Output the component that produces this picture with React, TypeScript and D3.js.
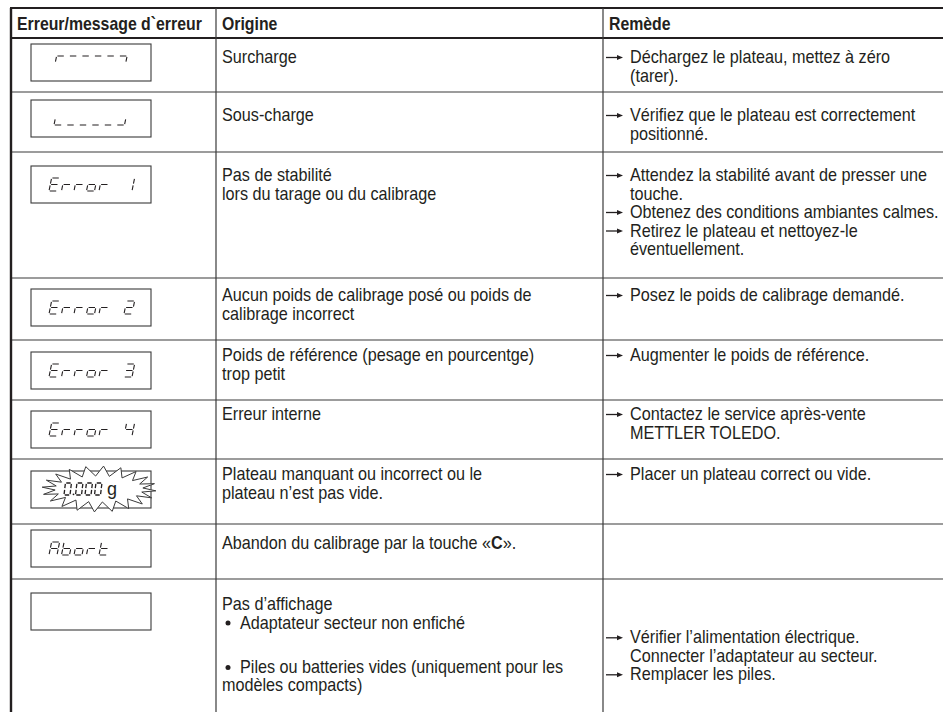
import React from 'react';
import * as d3 from 'd3';

// Column headers
const headers = ['Erreur/message d`erreur', 'Origine', 'Remède'];

// LCD content of each row ('<' '-' '>' = top segments, '[' '_' ']' = bottom segments)
const displays = ['<---->', '[____]', 'Error 1', 'Error 2', 'Error 3', 'Error 4', '0.000', 'Abort', ''];

// "Origine" column, one array of lines per row (• = bullet, *x* = bold, '' = gap)
const origins: string[][] = [
  ['Surcharge'],
  ['Sous-charge'],
  ['Pas de stabilité', 'lors du tarage ou du calibrage'],
  ['Aucun poids de calibrage posé ou poids de', 'calibrage incorrect'],
  ['Poids de référence (pesage en pourcentge)', 'trop petit'],
  ['Erreur interne'],
  ['Plateau manquant ou incorrect ou le', 'plateau n’est pas vide.'],
  ['Abandon du calibrage par la touche «*C*».'],
  ['Pas d’affichage', '•Adaptateur secteur non enfiché', '', '•Piles ou batteries vides (uniquement pour les', 'modèles compacts)'],
];

// "Remède" column (→ = arrow item)
const remedies: string[][] = [
  ['→Déchargez le plateau, mettez à zéro', '(tarer).'],
  ['→Vérifiez que le plateau est correctement', 'positionné.'],
  ['→Attendez la stabilité avant de presser une', 'touche.', '→Obtenez des conditions ambiantes calmes.', '→Retirez le plateau et nettoyez-le', 'éventuellement.'],
  ['→Posez le poids de calibrage demandé.'],
  ['→Augmenter le poids de référence.'],
  ['→Contactez le service après-vente', 'METTLER TOLEDO.'],
  ['→Placer un plateau correct ou vide.'],
  [],
  ['', '→Vérifier l’alimentation électrique.', 'Connecter l’adaptateur au secteur.', '→Remplacer les piles.'],
];

const SEGMENTS: Record<string, string> = {
  E: 'adefg', r: 'eg', o: 'cdeg', A: 'abcefg', b: 'cdefg', t: 'defg',
  '0': 'abcdef', '1': 'bc', '2': 'abdeg', '3': 'abcdg', '4': 'bcfg',
  '<': 'af', '-': 'a', '>': 'ab', '[': 'de', '_': 'd', ']': 'cd', ' ': '',
};

const FONT = '"Liberation Sans", Arial, sans-serif';
const INK = '#231f20';
const LINE = '#3a3a3a';

// seven segment glyph as path string
function glyph(ch: string, x0: number, y0: number, w: number, h: number, slant = 0.2): string {
  const p = d3.path();
  const P = (x: number, y: number): [number, number] => [x + (y0 + h - y) * slant, y];
  const m = y0 + h / 2;
  const gp = 0.8;
  const seg: Record<string, [number, number, number, number]> = {
    a: [x0 + gp, y0, x0 + w - gp, y0],
    b: [x0 + w, y0 + gp, x0 + w, m - gp],
    c: [x0 + w, m + gp, x0 + w, y0 + h - gp],
    d: [x0 + gp, y0 + h, x0 + w - gp, y0 + h],
    e: [x0, m + gp, x0, y0 + h - gp],
    f: [x0, y0 + gp, x0, m - gp],
    g: [x0 + gp, m, x0 + w - gp, m],
  };
  (SEGMENTS[ch] ?? '').split('').forEach(k => {
    const [x1, y1, x2, y2] = seg[k];
    p.moveTo(...P(x1, y1));
    p.lineTo(...P(x2, y2));
  });
  return p.toString();
}

// body font is slightly condensed in the original: draw Arial a bit taller and squeeze it
function RichText({ text, x, y, bold = false }: { text: string; x: number; y: number; bold?: boolean }) {
  const parts = text.split('*');
  return (
    <text
      transform={`translate(${x},${y}) scale(0.9,1)`}
      fontFamily={FONT}
      fontSize={bold ? 17.6 : 18}
      fill={INK}
      fontWeight={bold ? 'bold' : 'normal'}
    >
      {parts.map((t, i) => (
        <tspan key={i} fontWeight={i % 2 === 1 ? 'bold' : undefined}>{t}</tspan>
      ))}
    </text>
  );
}

export default function App() {
  const W = 943, H = 712;
  const top = 8, headerBottom = 38;
  const rowEdges = [headerBottom, 92, 152, 278, 340, 400, 459, 524, 579, H];
  const textPad = [25, 29, 29, 23, 21, 20, 21, 25, 31];
  const boxTop = [44, 100, 166, 289, 352, 411, 471, 530, 593];
  const lineH = 18.5;
  const gapH = 25.9;

  const colX = d3.scaleOrdinal<string, number>().domain(['left', 'c1', 'c2']).range([11, 216, 603]);
  const textX = d3.scaleOrdinal<string, number>().domain(['h0', 'h1', 'h2', 'c1', 'c2']).range([17, 222, 609, 222, 630]);
  const rowY = (i: number) => rowEdges[i];

  // baselines of a cell's lines: blank entries make a wider gap
  const baselines = (lines: string[], y: number) => {
    let cur = y;
    return lines.map((t, k) => {
      if (k > 0) cur += lines[k - 1] === '' ? gapH : lineH;
      if (k === 0 && t === '') cur += gapH - lineH;
      return cur;
    });
  };

  const boxX = 31, boxW = 120, boxH = 37;
  const cw = 8, ch = 13, pitch = 12.5;

  const burst = (cx: number, cy: number) => {
    const n = 20;
    const pts = d3.range(n * 2).map(i => {
      const a = (i * Math.PI) / n + 0.08;
      const out = i % 2 === 0;
      const rx = out ? 57 : 44, ry = out ? 23 : 13;
      return [cx + rx * Math.cos(a), cy + ry * Math.sin(a)] as [number, number];
    });
    return d3.line()(pts) + 'Z';
  };

  return (
    <svg width={W} height={H} style={{ position: 'absolute', left: 0, top: 0, background: '#fff' }}>
      <rect width={W} height={H} fill="#fff" />

      {/* header */}
      {headers.map((h, i) => (
        <RichText key={h} text={h} x={textX('h' + i)} y={30} bold />
      ))}

      {/* rows */}
      {displays.map((d, i) => {
        const y0 = rowY(i);
        const by = boxTop[i];
        const gy = by + (boxH - ch) / 2;
        const isBar = /^[<>\-\[\]_]+$/.test(d);
        const startX = boxX + (isBar ? 23 : 18);
        const oy = baselines(origins[i], y0 + textPad[i]);
        const ry = baselines(remedies[i], y0 + textPad[i]);
        return (
          <g key={i}>
            <rect x={boxX} y={by} width={boxW} height={boxH} fill="none" stroke={LINE} strokeWidth={1.1} />
            {d === '0.000' ? (
              <g>
                <path d={burst(boxX + 68, by + 18)} fill="#fff" stroke={LINE} strokeWidth={1} />
                <path
                  d={d.replace('.', '').split('').map((c, k) => glyph(c, 64 + k * 9.5 + (k > 0 ? 2 : 0), by + 12, 6, 12, 0.12)).join('')}
                  fill="none" stroke={INK} strokeWidth={1.3}
                />
                <circle cx={73.5} cy={by + 23.3} r={0.9} fill={INK} />
                <text x={107} y={by + 24} fontFamily={FONT} fontSize={18} fill={INK}>g</text>
              </g>
            ) : (
              <path
                d={d.split('').map((c, k) => glyph(c, startX + k * pitch, gy, cw, ch)).join('')}
                fill="none" stroke={INK} strokeWidth={1.1}
              />
            )}

            {origins[i].map((t, k) => {
              const y = oy[k];
              if (!t) return null;
              if (t.startsWith('•')) {
                return (
                  <g key={k}>
                    <circle cx={228} cy={y - 5.5} r={2.5} fill={INK} />
                    <RichText text={t.slice(1)} x={240} y={y} />
                  </g>
                );
              }
              return <RichText key={k} text={t} x={textX('c1')} y={y} />;
            })}

            {remedies[i].map((t, k) => {
              const y = ry[k];
              if (!t) return null;
              const arrow = t.startsWith('→');
              return (
                <g key={k}>
                  {arrow && (
                    <g>
                      <line x1={606} x2={618} y1={y - 5.5} y2={y - 5.5} stroke={INK} strokeWidth={1.3} />
                      <path d={`M617,${y - 8}L623,${y - 5.5}L617,${y - 3}Z`} fill={INK} />
                    </g>
                  )}
                  <RichText text={arrow ? t.slice(1) : t} x={textX('c2')} y={y} />
                </g>
              );
            })}

            {i > 0 && <line x1={colX('left')} x2={W} y1={y0} y2={y0} stroke={LINE} strokeWidth={1.2} />}
          </g>
        );
      })}

      {/* grid */}
      <line x1={colX('left') - 1} x2={W} y1={top} y2={top} stroke={INK} strokeWidth={2.2} />
      <line x1={colX('left')} x2={W} y1={headerBottom} y2={headerBottom} stroke={INK} strokeWidth={2} />
      <line x1={colX('left')} x2={colX('left')} y1={top} y2={H} stroke={INK} strokeWidth={2.4} />
      <line x1={colX('c1')} x2={colX('c1')} y1={top} y2={H} stroke={LINE} strokeWidth={1.2} />
      <line x1={colX('c2')} x2={colX('c2')} y1={top} y2={H} stroke={LINE} strokeWidth={1.2} />
    </svg>
  );
}
